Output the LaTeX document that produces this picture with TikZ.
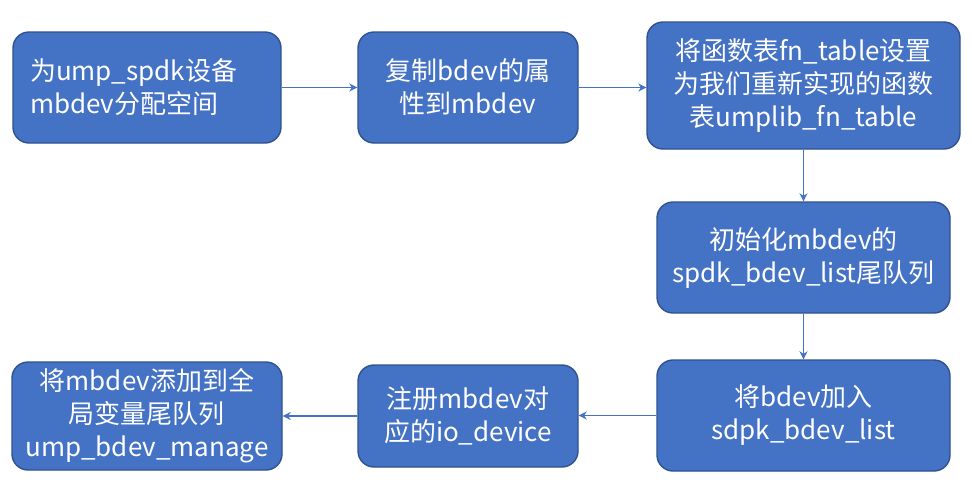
\documentclass[tikz,border=0pt]{standalone}
\usepackage{fontspec}
\newfontfamily\cjk{Noto Sans CJK SC}
\usetikzlibrary{arrows.meta}
\definecolor{boxfill}{HTML}{4472C4}
\definecolor{boxline}{HTML}{2F528F}
\definecolor{arrowc}{HTML}{4472C4}
\begin{document}
\begin{tikzpicture}[x=1pt,y=-1pt,
  stepbox/.style={draw=boxline, line width=1.4pt, fill=boxfill, rounded corners=16pt,
    text=white, font=\cjk\fontsize{26}{33}\selectfont, align=center, inner sep=0pt},
  flow/.style={draw=arrowc, line width=1.8pt, -{Stealth[length=8pt,width=8pt]}}]
\useasboundingbox (0,0) rectangle (972,488);
\node[stepbox, minimum height=111pt, text width=234pt, inner xsep=17pt, align=left] (b1) at (147,87.5) {为ump\_spdk设备\\mbdev分配空间};
\node[stepbox, minimum width=220pt, minimum height=111pt] (b2) at (468,87.5) {复制bdev的属\\性到mbdev};
\node[stepbox, minimum width=313pt, minimum height=127pt] (b3) at (803.5,85.5) {将函数表fn\_table设置\\为我们重新实现的函数\\表umplib\_fn\_table};
\node[stepbox, minimum width=293pt, minimum height=111pt] (b4) at (803.5,257.5) {初始化mbdev的\\spdk\_bdev\_list尾队列};
\node[stepbox, minimum width=293pt, minimum height=111pt] (b5) at (803.5,415.5) {将bdev加入\\sdpk\_bdev\_list};
\node[stepbox, minimum width=220pt, minimum height=102pt] (b6) at (468,416) {注册mbdev对\\应的io\_device};
\node[stepbox, minimum width=270pt, minimum height=108pt] (b7) at (147,416) {将mbdev添加到全\\局变量尾队列\\ump\_bdev\_manage};
\draw[flow] (b1.east) -- (b2.west);
\draw[flow] (b2.east) -- (b2.east -| b3.west);
\draw[flow] (b3.south) -- (b4.north);
\draw[flow] (b4.south) -- (b5.north);
\draw[flow] (b5.west) -- (b5.west -| b6.east);
\draw[flow] (b6.west) -- (b6.west -| b7.east);
\end{tikzpicture}
\end{document}
